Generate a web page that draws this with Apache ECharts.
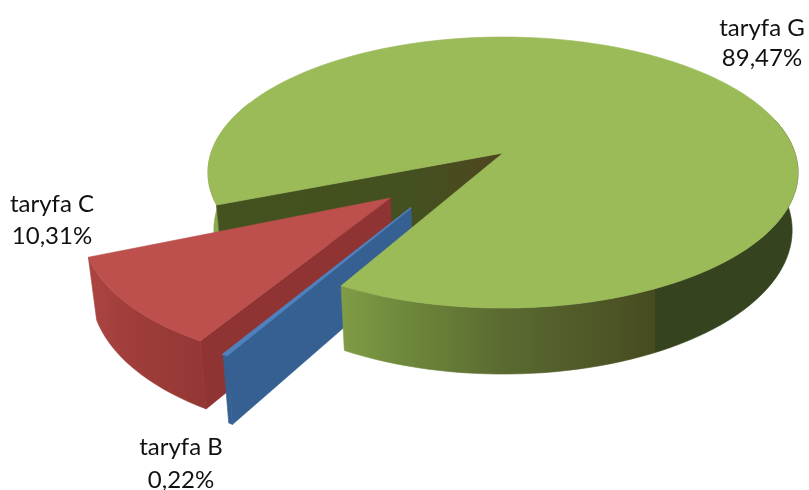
<!DOCTYPE html>
<html><head><meta charset="utf-8">
<style>html,body{margin:0;padding:0;background:#fff}#c{width:809px;height:490px}</style>
<script src="https://cdn.jsdelivr.net/npm/echarts@6/dist/echarts.min.js"></script>
</head><body><div id="c"></div>
<script>
const categories = ['taryfa G', 'taryfa C', 'taryfa B'];
const values = [89.47, 10.31, 0.22];
const valueLabels = ['89,47%', '10,31%', '0,22%'];

// view of the tilted disc
const view = {cx: 503, cy: 153, A: 292, B: 110.7, k: -0.144, depth: 56.5, taper: 0.02};
const startAngle = 158.2;
const frontTrim = 1.3;
const explodeR = 0.49;
const total = values.reduce((a, b) => a + b, 0);
const sweep = values.map(v => v / total * 360);
const gEnd = startAngle + sweep[0] - frontTrim;
const bandB = [gEnd, gEnd + sweep[2]];
const bandC = [bandB[1] + 0.3, bandB[1] + 0.3 + sweep[1]];

function P(u, v, z) {
  const w = 1 + view.k * v;
  return [view.cx + view.A * u / w * (1 - view.taper * z), (view.cy + view.B * v) / w + z * view.depth / w];
}
const rad = d => d * Math.PI / 180;
function arc(a0, a1, off, z, r) {
  const n = Math.max(2, Math.ceil(Math.abs(a1 - a0) / 2)), pts = [];
  for (let i = 0; i <= n; i++) {
    const a = rad(a0 + (a1 - a0) * i / n);
    pts.push(P(off[0] + r * Math.cos(a), off[1] + r * Math.sin(a), z));
  }
  return pts;
}
const poly = (points, fill, extra) => ({type: 'polygon', shape: {points}, style: Object.assign({fill, stroke: fill, lineWidth: 0.6}, extra || {})});
const offset = (deg, e) => [e * Math.cos(rad(deg)), e * Math.sin(rad(deg))];
const grad = (x0, y0, x1, y1, stops) => new echarts.graphic.LinearGradient(x0, y0, x1, y1, stops.map(s => ({offset: s[0], color: s[1]})), true);

function wall(a0, a1, off, r, fill) {
  return poly(arc(a0, a1, off, 0, r).concat(arc(a1, a0, off, 1, r)), fill);
}
function cut(a, off, r, fill) {
  const c0 = P(off[0], off[1], 0), c1 = P(off[0], off[1], 1);
  const e0 = arc(a, a, off, 0, r)[0], e1 = arc(a, a, off, 1, r)[0];
  return poly([c0, e0, e1, c1], fill);
}
function topFace(a0, a1, off, r, fill, extra) {
  return poly([P(off[0], off[1], 0)].concat(arc(a0, a1, off, 0, r)), fill, extra);
}

const O = [0, 0];
const layers = [
  () => [
    wall(startAngle, startAngle + 45, O, 1, '#8aa84e'),
    cut(startAngle, O, 1, grad(220, 0, 503, 0, [[0, '#43521f'], [0.7, '#44501f'], [1, '#4f4620']]))
  ],
  () => {
    const off = offset((bandC[0] + bandC[1]) / 2, explodeR), r = 0.985;
    return [
      wall(bandC[0], bandC[1], off, r, grad(85, 0, 205, 0, [[0, '#ab4542'], [0.45, '#9e3d3a'], [1, '#933735']])),
      cut(bandC[0], off, r, '#8f3432'),
      topFace(bandC[0], bandC[1], off, r, '#bd4f4c')
    ];
  },
  () => {
    const off = offset((bandB[0] + bandB[1]) / 2 + 8, explodeR), r = 0.985;
    return [
      cut(bandB[0], off, r, '#376092'),
      wall(bandB[0], bandB[1], off, r, '#376092'),
      topFace(bandB[0], bandB[1], off, r, '#4f81bd', {lineWidth: 1.5})
    ];
  },
  () => [
    wall(gEnd, 345, O, 1, grad(345, 0, 798, 0, [
      [0, '#7f9b45'], [0.12, '#6f8a3c'], [0.35, '#5a6a31'], [0.684, '#474b20'], [0.684, '#35441e'], [1, '#35441e']
    ])),
    topFace(startAngle, gEnd, O, 1, '#9abb58')
  ]
];

const labelPos = [[762, 28, 58], [52, 204, 236], [181, 447, 480]];
const textEl = (text, x, y) => ({type: 'text', x, y, z: 10, style: {text, align: 'center', verticalAlign: 'middle', fill: '#111', font: '24px Lato'}});
const labels = categories.flatMap((c, i) => [
  textEl(c, labelPos[i][0], labelPos[i][1]),
  textEl(valueLabels[i], labelPos[i][0], labelPos[i][2])
]);

const chart = echarts.init(document.getElementById('c'), null, {renderer: 'canvas'});
chart.setOption({
  animation: false,
  backgroundColor: '#fff',
  series: [{
    type: 'custom',
    coordinateSystem: 'none',
    silent: true,
    data: layers.map((_, i) => [i]),
    renderItem: (params, api) => ({type: 'group', children: layers[api.value(0)]()})
  }],
  graphic: {elements: labels}
});
</script></body></html>
